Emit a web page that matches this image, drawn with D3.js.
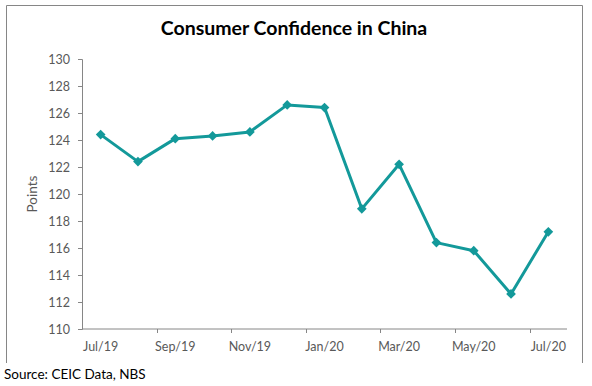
<!DOCTYPE html>
<html>
<head>
<meta charset="utf-8">
<script src="https://cdn.jsdelivr.net/npm/d3@7"></script>
<style>
  body { margin: 0; background: #fff; }
  text { font-family: Lato, "Open Sans", sans-serif; }
</style>
</head>
<body>
<div id="chart"></div>
<script>
// data
const months = ["Jul/19", "Aug/19", "Sep/19", "Oct/19", "Nov/19", "Dec/19", "Jan/20",
                "Feb/20", "Mar/20", "Apr/20", "May/20", "Jun/20", "Jul/20"];
const confidence = [124.4, 122.4, 124.1, 124.3, 124.6, 126.6, 126.4,
                    118.9, 122.2, 116.4, 115.8, 112.6, 117.2];
const yTicks = [110, 112, 114, 116, 118, 120, 122, 124, 126, 128, 130];
const xLabels = ["Jul/19", "Sep/19", "Nov/19", "Jan/20", "Mar/20", "May/20", "Jul/20"];

const width = 592;
const height = 386;
const marginLeft = 82;
const marginRight = 25;
const marginTop = 59;
const marginBottom = 57;
const lineColor = "#13999a";
const axisColor = "#868686";
const textColor = "#595959";

const svg = d3.select("#chart")
    .append("svg")
    .attr("width", width)
    .attr("height", height);

// chart frame (bottom edge is cut off in the original)
svg.append("path")
    .attr("d", "M6.5,363V5.5H582.5V363")
    .attr("fill", "none")
    .attr("stroke", axisColor)
    .attr("stroke-width", 1);

svg.append("text")
    .attr("x", 294)
    .attr("y", 35)
    .attr("text-anchor", "middle")
    .attr("font-size", "19.5px")
    .attr("font-weight", "bold")
    .attr("fill", "#000")
    .text("Consumer Confidence in China");

const x = d3.scaleBand()
    .domain(months)
    .range([marginLeft, width - marginRight]);

const y = d3.scaleLinear()
    .domain([110, 130])
    .range([height - marginBottom, marginTop]);

// y axis
const yAxis = svg.append("g")
    .attr("transform", `translate(${marginLeft},0)`)
    .call(d3.axisLeft(y).tickValues(yTicks).tickSize(4).tickPadding(8).tickFormat(d3.format("d")));
yAxis.select(".domain").attr("stroke", axisColor);
yAxis.selectAll(".tick line").attr("stroke", axisColor);
yAxis.selectAll(".tick text")
    .attr("fill", textColor)
    .attr("font-size", "12.5px")
    .attr("font-family", "Lato, sans-serif");

// x axis: ticks sit between categories, every second one
const xAxis = svg.append("g")
    .attr("transform", `translate(0,${height - marginBottom})`);
xAxis.append("line")
    .attr("x1", marginLeft)
    .attr("x2", width - marginRight)
    .attr("stroke", axisColor);
xAxis.selectAll(".xtick")
    .data(months.filter((d, i) => i % 2 === 0 && i > 0))
    .join("line")
    .attr("class", "xtick")
    .attr("x1", d => Math.round(x(d)) + 0.5)
    .attr("x2", d => Math.round(x(d)) + 0.5)
    .attr("y1", 0)
    .attr("y2", 4)
    .attr("stroke", axisColor);
xAxis.selectAll(".xlabel")
    .data(xLabels)
    .join("text")
    .attr("class", "xlabel")
    .attr("x", d => x(d) + x.bandwidth() / 2)
    .attr("y", 22)
    .attr("text-anchor", "middle")
    .attr("fill", textColor)
    .attr("font-size", "12.5px")
    .text(d => d);

svg.append("text")
    .attr("transform", `translate(37,${(marginTop + height - marginBottom) / 2}) rotate(-90)`)
    .attr("text-anchor", "middle")
    .attr("fill", textColor)
    .attr("font-size", "13.5px")
    .text("Points");

// line and diamond markers
const line = d3.line()
    .x((d, i) => x(months[i]) + x.bandwidth() / 2)
    .y(d => y(d));

svg.append("path")
    .datum(confidence)
    .attr("d", line)
    .attr("fill", "none")
    .attr("stroke", lineColor)
    .attr("stroke-width", 3)
    .attr("stroke-linejoin", "round");

svg.selectAll(".marker")
    .data(confidence)
    .join("path")
    .attr("class", "marker")
    .attr("d", d3.symbol(d3.symbolDiamond2, 60))
    .attr("transform", (d, i) => `translate(${x(months[i]) + x.bandwidth() / 2},${y(d)})`)
    .attr("fill", lineColor);

svg.append("text")
    .attr("x", 4)
    .attr("y", 379)
    .attr("fill", "#000")
    .attr("font-size", "13.5px")
    .text("Source: CEIC Data, NBS");
</script>
</body>
</html>
